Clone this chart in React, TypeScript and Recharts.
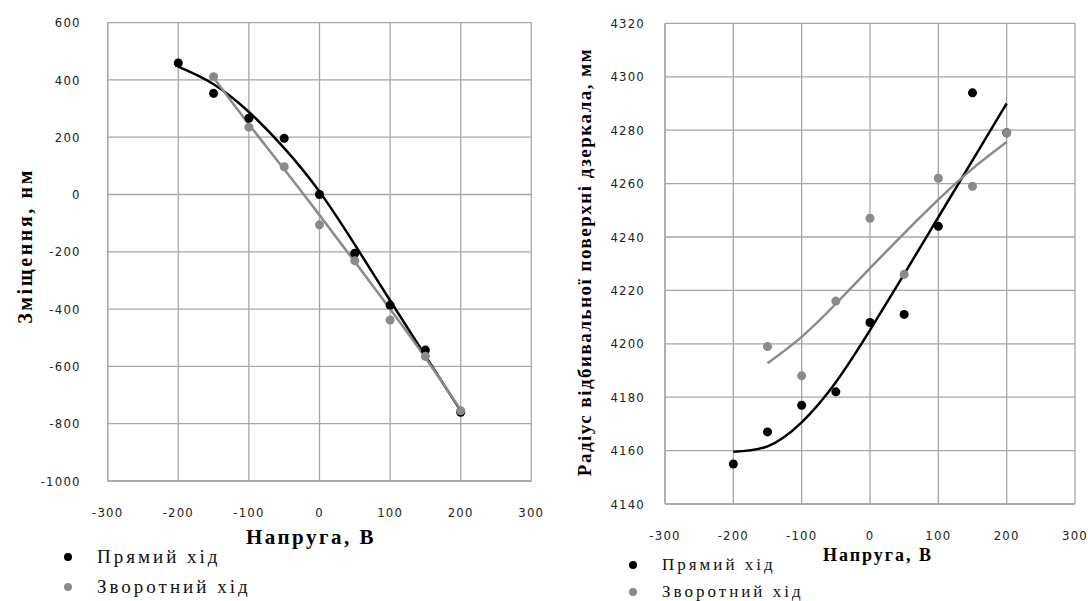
import React from "react";
import {
  ComposedChart,
  Scatter,
  Line,
  XAxis,
  YAxis,
  CartesianGrid,
} from "recharts";

// Voltage steps, V
const voltage = [-200, -150, -100, -50, 0, 50, 100, 150, 200];
const voltageBack = [-150, -100, -50, 0, 50, 100, 150, 200];

// Displacement, nm (left panel)
const shiftForward = [459, 353, 266, 196, 0, -205, -386, -543, -760];
const shiftBackward = [411, 235, 97, -106, -231, -438, -565, -755];
const shiftForwardTrend = [446, 385, 288, 162, 10, -175, -370, -563, -755];
const shiftBackwardTrend = [408, 245, 88, -72, -235, -400, -570, -752];

// Mirror radius, mm (right panel)
const radiusForward = [4155, 4167, 4177, 4182, 4208, 4211, 4244, 4294, 4279];
const radiusBackward = [4199, 4188, 4216, 4247, 4226, 4262, 4259, 4279];
const radiusForwardTrend = [4159.6, 4161.6, 4170.6, 4185.6, 4205.1, 4226.1, 4247.4, 4268.7, 4290];
const radiusBackwardTrend = [4192.7, 4202.6, 4215.0, 4228.3, 4241.4, 4254.0, 4265.6, 4275.6];

const xTicks = [-300, -200, -100, 0, 100, 200, 300];
const shiftTicks = [-1000, -800, -600, -400, -200, 0, 200, 400, 600];
const radiusTicks = [4140, 4160, 4180, 4200, 4220, 4240, 4260, 4280, 4300, 4320];

const SERIES_NAMES = ["Прямий хід", "Зворотний хід"];
const X_TITLE = "Напруга, В";

const BLACK = "#000000";
const GRAY = "#8a8a8a";
const GRID = "#a6a6a6";
const SERIF = '"Liberation Serif", "Times New Roman", serif';
const TICK_FONT = '"Liberation Sans Narrow", "Arial Narrow", "DejaVu Sans Condensed", sans-serif';

const toPoints = (xs: number[], ys: number[]) => xs.map((x, i) => ({ x, y: ys[i] }));

type PanelProps = {
  left: number;
  width: number;
  margin: { top: number; right: number; bottom: number; left: number };
  yDomain: [number, number];
  yTicks: number[];
  yTickMargin: number;
  xTickMargin: number;
  fwd: number[];
  back: number[];
  fwdTrend: number[];
  backTrend: number[];
  legend: { left: number; top: number; row: number; font: number };
  xTitle: { cx: number; cy: number; font: number; spacing: number };
  yTitle: { text: string; cx: number; cy: number; font: number; spacing: number };
};

function Panel(p: PanelProps) {
  const tickStyle = { fontSize: 13, fill: "#222", fontFamily: TICK_FONT, letterSpacing: 1.2 };

  return (
    <div style={{ position: "absolute", left: p.left, top: 0, width: p.width, height: 601 }}>
      <ComposedChart width={p.width} height={601} margin={p.margin}>
        <CartesianGrid stroke={GRID} strokeWidth={1.3} />
        <XAxis
          dataKey="x"
          type="number"
          domain={[-300, 300]}
          ticks={xTicks}
          tickLine={false}
          tickSize={0}
          tickMargin={p.xTickMargin}
          axisLine={{ stroke: GRID, strokeWidth: 1.3 }}
          height={30}
          tick={tickStyle}
        />
        <YAxis
          dataKey="y"
          type="number"
          domain={p.yDomain}
          ticks={p.yTicks}
          tickLine={false}
          tickSize={0}
          tickMargin={p.yTickMargin}
          axisLine={{ stroke: GRID, strokeWidth: 1.3 }}
          width={60}
          tick={tickStyle}
        />
        <Scatter
          name={SERIES_NAMES[0]}
          data={toPoints(voltage, p.fwd)}
          dataKey="y"
          fill={BLACK}
          shape="circle"
          isAnimationActive={false}
        />
        <Line
          data={toPoints(voltage, p.fwdTrend)}
          dataKey="y"
          type="natural"
          stroke={BLACK}
          strokeWidth={2.5}
          dot={false}
          isAnimationActive={false}
        />
        <Scatter
          name={SERIES_NAMES[1]}
          data={toPoints(voltageBack, p.back)}
          dataKey="y"
          fill={GRAY}
          shape="circle"
          isAnimationActive={false}
        />
        <Line
          data={toPoints(voltageBack, p.backTrend)}
          dataKey="y"
          type="natural"
          stroke={GRAY}
          strokeWidth={2.5}
          dot={false}
          isAnimationActive={false}
        />
      </ComposedChart>

      {/* legend, placed like the old Excel one under the plot */}
      <div style={{ position: "absolute", left: p.legend.left, top: p.legend.top, fontFamily: SERIF }}>
        {SERIES_NAMES.map((name, i) => (
          <div key={name} style={{ display: "flex", alignItems: "center", height: p.legend.row }}>
            <svg width={10} height={10}>
              <circle cx={5} cy={5} r={4} fill={i === 0 ? BLACK : GRAY} />
            </svg>
            <span
              style={{
                marginLeft: 24,
                fontSize: p.legend.font,
                letterSpacing: 3,
                color: "#111",
                whiteSpace: "nowrap",
              }}
            >
              {name}
            </span>
          </div>
        ))}
      </div>

      <div
        style={{
          position: "absolute",
          left: p.xTitle.cx - 150,
          top: p.xTitle.cy - 15,
          width: 300,
          height: 30,
          lineHeight: "30px",
          textAlign: "center",
          fontFamily: SERIF,
          fontWeight: "bold",
          fontSize: p.xTitle.font,
          letterSpacing: p.xTitle.spacing,
          whiteSpace: "nowrap",
        }}
      >
        {X_TITLE}
      </div>
      <div
        style={{
          position: "absolute",
          left: p.yTitle.cx - 300,
          top: p.yTitle.cy - 15,
          width: 600,
          height: 30,
          lineHeight: "30px",
          textAlign: "center",
          fontFamily: SERIF,
          fontWeight: "bold",
          fontSize: p.yTitle.font,
          letterSpacing: p.yTitle.spacing,
          whiteSpace: "nowrap",
          transform: "rotate(-90deg)",
        }}
      >
        {p.yTitle.text}
      </div>
    </div>
  );
}

export default function App() {
  return (
    <div
      style={{
        position: "absolute",
        left: 0,
        top: 0,
        width: 1088,
        height: 601,
        background: "#fff",
        overflow: "hidden",
      }}
    >
      <Panel
        left={0}
        width={560}
        margin={{ top: 22.6, right: 28.7, bottom: 90, left: 47.7 }}
        yDomain={[-1000, 600]}
        yTicks={shiftTicks}
        yTickMargin={27}
        xTickMargin={27}
        fwd={shiftForward}
        back={shiftBackward}
        fwdTrend={shiftForwardTrend}
        backTrend={shiftBackwardTrend}
        legend={{ left: 63, top: 542, row: 30, font: 19 }}
        xTitle={{ cx: 311, cy: 537, font: 21, spacing: 2.5 }}
        yTitle={{ text: "Зміщення, нм", cx: 25, cy: 246, font: 20, spacing: 2.6 }}
      />
      <Panel
        left={540}
        width={548}
        margin={{ top: 23.4, right: 13, bottom: 67, left: 65 }}
        yDomain={[4140, 4320]}
        yTicks={radiusTicks}
        yTickMargin={20}
        xTickMargin={26.5}
        fwd={radiusForward}
        back={radiusBackward}
        fwdTrend={radiusForwardTrend}
        backTrend={radiusBackwardTrend}
        legend={{ left: 88, top: 551.5, row: 27, font: 17 }}
        xTitle={{ cx: 338, cy: 555, font: 18, spacing: 2 }}
        yTitle={{
          text: "Радіус відбивальної поверхні дзеркала, мм",
          cx: 45,
          cy: 262,
          font: 19,
          spacing: 1.5,
        }}
      />
    </div>
  );
}
